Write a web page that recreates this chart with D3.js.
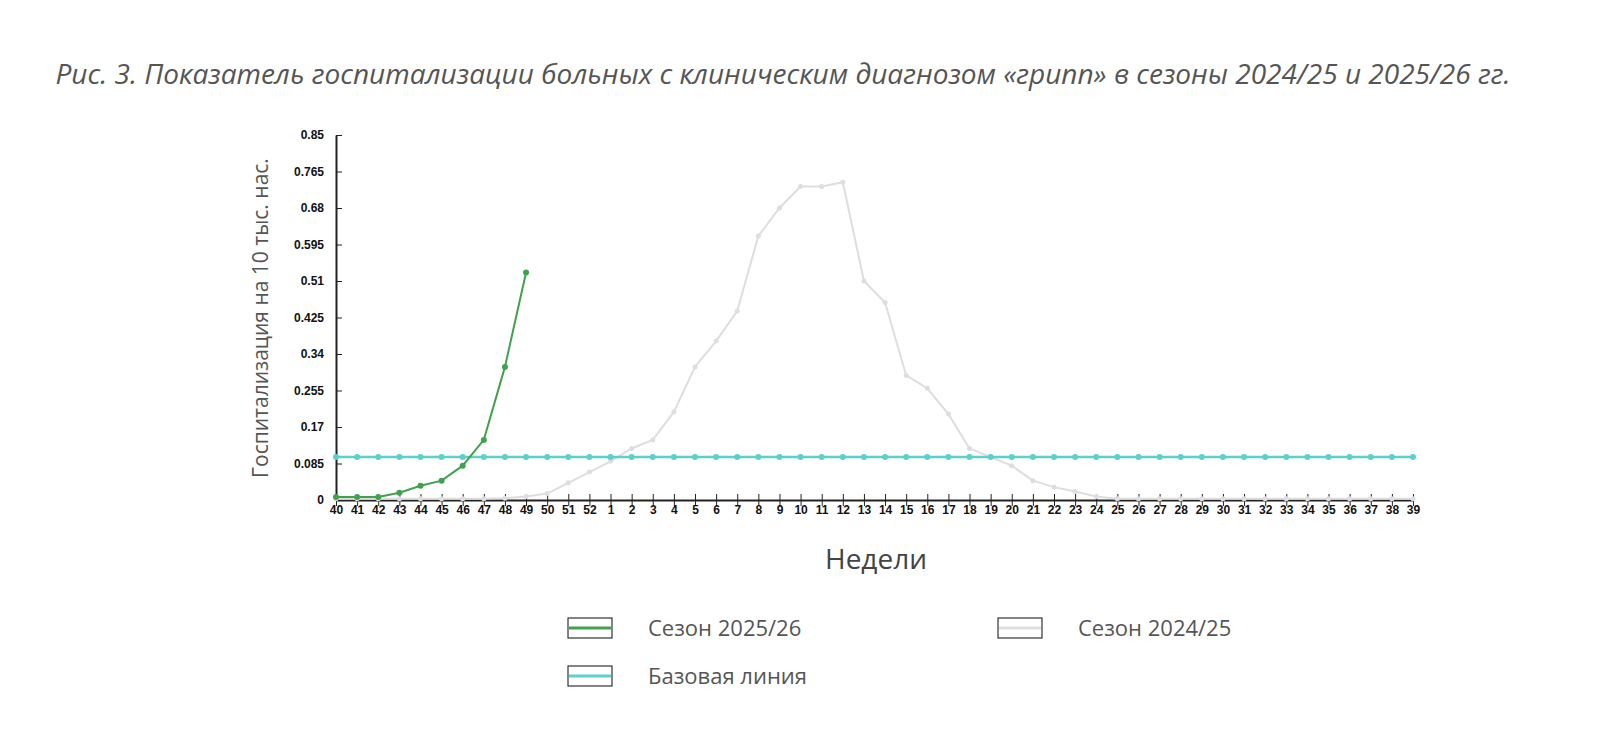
<!DOCTYPE html>
<html><head><meta charset="utf-8">
<script src="https://cdn.jsdelivr.net/npm/d3@7"></script>
<style>body{margin:0;background:#fff;font-family:"Open Sans",sans-serif}</style>
</head><body><div id="chart"></div>
<script>
const weeks = [40,41,42,43,44,45,46,47,48,49,50,51,52,1,2,3,4,5,6,7,8,9,10,11,12,13,14,15,16,17,18,19,20,21,22,23,24,25,26,27,28,29,30,31,32,33,34,35,36,37,38,39];
const season2526 = [0.007,0.007,0.007,0.017,0.033,0.045,0.08,0.14,0.31,0.53];
const season2425 = [0.003,0.003,0.003,0.003,0.003,0.003,0.003,0.003,0.004,0.008,0.015,0.04,0.065,0.09,0.12,0.14,0.205,0.31,0.37,0.44,0.615,0.68,0.73,0.73,0.74,0.51,0.46,0.29,0.26,0.2,0.12,0.1,0.08,0.045,0.03,0.02,0.008,0.003,0.003,0.003,0.003,0.003,0.003,0.003,0.003,0.003,0.003,0.003,0.003,0.003,0.003,0.003];
const baseline = 0.1;
const yTicks = [0,0.085,0.17,0.255,0.34,0.425,0.51,0.595,0.68,0.765,0.85];

const svg = d3.select("#chart").append("svg").attr("width",1600).attr("height",734);
svg.append("text").attr("x",783).attr("y",84).attr("text-anchor","middle")
  .attr("font-size",27).attr("font-style","italic").attr("fill","#555")
  .attr("textLength",1455).attr("lengthAdjust","spacingAndGlyphs")
  .text("Рис. 3. Показатель госпитализации больных с клиническим диагнозом «грипп» в сезоны 2024/25 и 2025/26 гг.");

const x = d3.scalePoint().domain(d3.range(weeks.length)).range([336,1413]);
const y = d3.scaleLinear().domain([0,0.85]).range([500,135]);

const gx = svg.append("g").attr("transform","translate(0,500)")
  .call(d3.axisBottom(x).tickSize(6).tickSizeOuter(0).tickFormat(i=>weeks[i]));
gx.selectAll(".tick line").attr("y1",-6).attr("stroke","#222");
gx.select(".domain").attr("stroke","#222").attr("stroke-width",2);
gx.selectAll("text").attr("font-size",12).attr("font-weight","bold").attr("fill","#111").attr("dy","0.45em");

const gy = svg.append("g").attr("transform","translate(336,0)")
  .call(d3.axisLeft(y).tickValues(yTicks).tickSize(6).tickSizeOuter(0).tickFormat(d=>d));
gy.selectAll(".tick line").attr("x2",6).attr("stroke","#222");
gy.select(".domain").attr("stroke","#222").attr("stroke-width",2);
gy.selectAll("text").attr("font-size",12).attr("font-weight","bold").attr("fill","#111").attr("x",-12);

svg.append("text").attr("transform","translate(268,318) rotate(-90)").attr("text-anchor","middle")
  .attr("font-size",21).attr("fill","#555").text("Госпитализация на 10 тыс. нас.");
svg.append("text").attr("x",876).attr("y",569).attr("text-anchor","middle")
  .attr("font-size",28).attr("fill","#444").text("Недели");

function series(vals,color,w,r){
  const line = d3.line().x((d,i)=>x(i)).y(d=>y(d));
  svg.append("path").datum(vals).attr("d",line).attr("fill","none").attr("stroke",color).attr("stroke-width",w);
  svg.append("g").selectAll("circle").data(vals).join("circle")
    .attr("cx",(d,i)=>x(i)).attr("cy",d=>y(d)).attr("r",r).attr("fill",color);
}
series(season2425,"#dedede",2,2.5);
series(weeks.map(()=>baseline),"#5ccfcf",2.5,3);
series(season2526,"#3fa34d",2,3);

const legend = [
  {label:"Сезон 2025/26",color:"#3fa34d",x:568,y:628},
  {label:"Сезон 2024/25",color:"#dedede",x:998,y:628},
  {label:"Базовая линия",color:"#5ccfcf",x:568,y:676}
];
const lg = svg.append("g").selectAll("g").data(legend).join("g").attr("transform",d=>`translate(${d.x},${d.y})`);
lg.append("rect").attr("x",0).attr("y",-10).attr("width",44).attr("height",20).attr("fill","#fff").attr("stroke","#333").attr("stroke-width",1.2);
lg.append("line").attr("x1",1).attr("x2",43).attr("stroke",d=>d.color).attr("stroke-width",3);
lg.append("text").attr("x",80).attr("y",8).attr("font-size",22).attr("fill","#555").text(d=>d.label);
</script></body></html>
